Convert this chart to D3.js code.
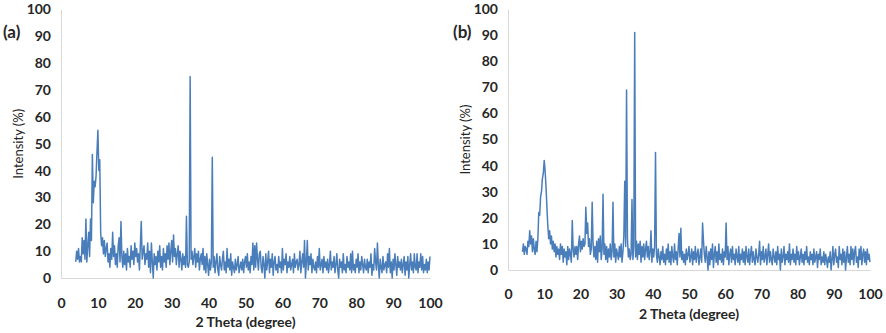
<!DOCTYPE html>
<html>
<head>
<meta charset="utf-8">
<script src="https://cdn.jsdelivr.net/npm/d3@7"></script>
<style>
  body { margin: 0; background: #fff; }
  text { font-family: Lato, "Open Sans", sans-serif; fill: #262626; }
  .tick text { font-weight: bold; font-size: 14px; }
</style>
</head>
<body>
<div id="chart"></div>
<script>
// 2 theta sampling grid, 0.25 degree steps from 4 to 100
var theta = d3.range(4, 100.001, 0.25);

// (a) intensity, one row per 5 degrees
var intensityA = [
  6, 10, 7, 11, 6, 8, 6, 15, 9, 14, 7, 22, 6, 12, 17, 8, 22, 14, 46, 28,
  36, 34, 38, 47, 55, 40, 44, 17, 12, 15, 9, 14, 8, 11, 13, 6, 9, 4, 11, 7,
  17, 8, 12, 5, 9, 4, 12, 15, 6, 21, 8, 4, 10, 5, 9, 3, 11, 6, 8, 4,
  12, 7, 10, 5, 13, 8, 11, 6, 9, 3, 12, 21, 7, 10, 12, 5, 9, 7, 13, 4,
  10, 2, 13, 6, 0, 9, 5, 8, 3, 10, 6, 12, 4, 8, 3, 11, 6, 9, 4, 12,
  7, 13, 5, 10, 14, 6, 16, 8, 11, 5, 9, 12, 4, 10, 7, 3, 9, 5, 8, 4,
  23, 5, 4, 6, 75, 7, 10, 5, 8, 11, 4, 9, 6, 10, 3, 7, 9, 5, 11, 3,
  8, 2, 9, 5, 1, 7, 3, 6, 45, 4, 8, 2, 6, 9, 3, 1, 8, 5, 3, 7,
  10, 3, 6, 2, 11, 4, 7, 3, 9, 1, 6, 4, 2, 7, 3, 5, 8, 2, 4, 6,
  3, 7, 2, 6, 8, 4, 9, 3, 6, 2, 8, 5, 13, 3, 12, 4, 13, 7, 3, 9,
  10, 4, 2, 8, 5, 0, 9, 3, 6, 10, 2, 7, 4, 9, 1, 6, 8, 3, 5, 2,
  8, 4, 6, 2, 11, 3, 7, 5, 9, 2, 6, 4, 8, 3, 5, 7, 2, 9, 4, 6,
  7, 3, 5, 10, 2, 6, 9, 4, 14, 0, 6, 14, 3, 8, 5, 9, 2, 7, 4, 3,
  6, 2, 8, 4, 11, 3, 5, 7, 2, 8, 4, 6, 3, 7, 2, 5, 10, 3, 6, 4,
  8, 2, 5, 9, 3, 0, 7, 4, 6, 2, 9, 3, 5, 2, 8, 4, 6, 3, 9, 2,
  10, 3, 5, 2, 7, 4, 9, 2, 6, 3, 8, 5, 2, 7, 4, 3, 7, 2, 6, 4,
  9, 1, 5, 3, 11, 6, 3, 13, 5, 0, 7, 4, 2, 8, 3, 5, 6, 2, 9, 4,
  11, 2, 6, 0, 7, 3, 9, 5, 1, 8, 4, 6, 3, 7, 2, 5, 8, 1, 6, 3,
  8, 0, 5, 9, 3, 6, 2, 9, 4, 3, 9, 2, 6, 4, 9, 3, 8, 2, 5, 3,
  7, 2, 6, 3, 8
];

// (b)
var intensityB = [
  7, 10, 6, 9, 8, 6, 11, 9, 15, 10, 13, 7, 12, 8, 6, 11, 7, 12, 22, 21,
  28, 30, 35, 37, 42, 38, 32, 24, 17, 12, 15, 10, 13, 8, 11, 7, 10, 5, 9, 6,
  8, 4, 10, 6, 9, 3, 8, 5, 7, 2, 9, 4, 8, 6, 3, 19, 8, 5, 9, 6,
  9, 4, 10, 13, 7, 11, 8, 12, 9, 10, 24, 14, 18, 9, 12, 6, 8, 26, 10, 5,
  9, 4, 11, 3, 12, 7, 13, 4, 8, 29, 6, 10, 4, 9, 3, 8, 5, 10, 4, 7,
  26, 5, 10, 3, 8, 6, 4, 9, 5, 10, 3, 7, 13, 34, 9, 69, 12, 5, 8, 4,
  6, 27, 4, 9, 91, 5, 11, 4, 10, 6, 11, 3, 9, 5, 10, 4, 8, 11, 5, 9,
  4, 7, 15, 3, 8, 5, 9, 45, 6, 3, 8, 5, 2, 7, 4, 9, 3, 6, 2, 8,
  4, 10, 3, 7, 2, 9, 5, 3, 10, 4, 7, 2, 8, 14, 5, 16, 4, 7, 3, 6,
  2, 8, 4, 6, 9, 3, 5, 8, 2, 7, 4, 9, 3, 6, 8, 2, 5, 8, 3, 18,
  11, 6, 3, 9, 5, 0, 7, 2, 8, 4, 10, 1, 6, 9, 3, 7, 2, 10, 4, 6,
  3, 8, 2, 7, 5, 18, 4, 9, 2, 6, 8, 3, 9, 4, 6, 2, 8, 5, 3, 9,
  2, 6, 4, 8, 3, 7, 2, 9, 5, 3, 8, 2, 6, 9, 3, 7, 4, 2, 8, 5,
  3, 6, 11, 2, 7, 4, 9, 3, 5, 8, 2, 6, 10, 3, 7, 4, 2, 8, 5, 3,
  7, 2, 9, 4, 6, 0, 8, 3, 5, 9, 2, 6, 4, 7, 3, 10, 2, 6, 4, 8,
  3, 6, 2, 9, 4, 7, 2, 5, 8, 3, 6, 2, 7, 4, 9, 3, 5, 2, 7, 4,
  6, 2, 8, 3, 5, 7, 1, 6, 4, 8, 2, 5, 3, 7, 2, 6, 4, 1, 5, 3,
  7, 0, 4, 9, 2, 6, 8, 3, 5, 1, 9, 4, 6, 2, 8, 3, 7, 0, 5, 9,
  3, 6, 2, 9, 4, 8, 2, 7, 9, 3, 5, 1, 8, 4, 9, 2, 6, 8, 3, 7,
  2, 8, 4, 6, 3
];

var xTicks = [0, 10, 20, 30, 40, 50, 60, 70, 80, 90, 100];
var yTicks = [0, 10, 20, 30, 40, 50, 60, 70, 80, 90, 100];

var svgWidth = 886;
var svgHeight = 333;

var svg = d3.select("#chart")
  .append("svg")
  .attr("width", svgWidth)
  .attr("height", svgHeight);

// one panel per pattern
var panels = [
  { tag: "(a)", values: intensityA, left: 61, right: 430, top: 9.5, bottom: 278,
    tagX: 3, xLabelY: 308, titleY: 327, yTitleX: 18 },
  { tag: "(b)", values: intensityB, left: 508, right: 870, top: 9, bottom: 270,
    tagX: 453, xLabelY: 299, titleY: 319, yTitleX: 465 }
];

panels.forEach(function (p) {
  var x = d3.scaleLinear().domain([0, 100]).range([p.left, p.right]);
  var y = d3.scaleLinear().domain([0, 100]).range([p.bottom, p.top]);

  var g = svg.append("g");

  // y axis
  var yAxis = g.append("g")
    .attr("transform", `translate(${p.left},0)`)
    .call(d3.axisLeft(y).tickValues(yTicks).tickSize(0).tickPadding(10));
  yAxis.select(".domain").attr("stroke", "#d9d9d9");

  // x axis
  var xAxis = g.append("g")
    .attr("transform", `translate(0,${p.bottom})`)
    .call(d3.axisBottom(x).tickValues(xTicks).tickSize(0).tickPadding(p.xLabelY - p.bottom - 10));
  xAxis.select(".domain").attr("stroke", "#d9d9d9");

  // pattern line
  var line = d3.line()
    .x(function (d, i) { return x(theta[i]); })
    .y(function (d) { return y(d); });

  g.append("path")
    .datum(p.values)
    .attr("d", line)
    .attr("fill", "none")
    .attr("stroke", "#4a7ebb")
    .attr("stroke-width", 1.5)
    .attr("stroke-linejoin", "round");

  // titles
  g.append("text")
    .attr("x", (p.left + p.right) / 2)
    .attr("y", p.titleY)
    .attr("text-anchor", "middle")
    .style("font-weight", "bold")
    .style("font-size", "14px")
    .text("2 Theta (degree)");

  g.append("text")
    .attr("transform", `translate(${p.yTitleX},${(p.top + p.bottom) / 2}) rotate(-90)`)
    .attr("text-anchor", "middle")
    .attr("dy", "0.35em")
    .style("font-size", "13px")
    .text("Intensity (%)");

  g.append("text")
    .attr("x", p.tagX)
    .attr("y", 38)
    .style("font-weight", "bold")
    .style("font-size", "17px")
    .text(p.tag);
});
</script>
</body>
</html>
